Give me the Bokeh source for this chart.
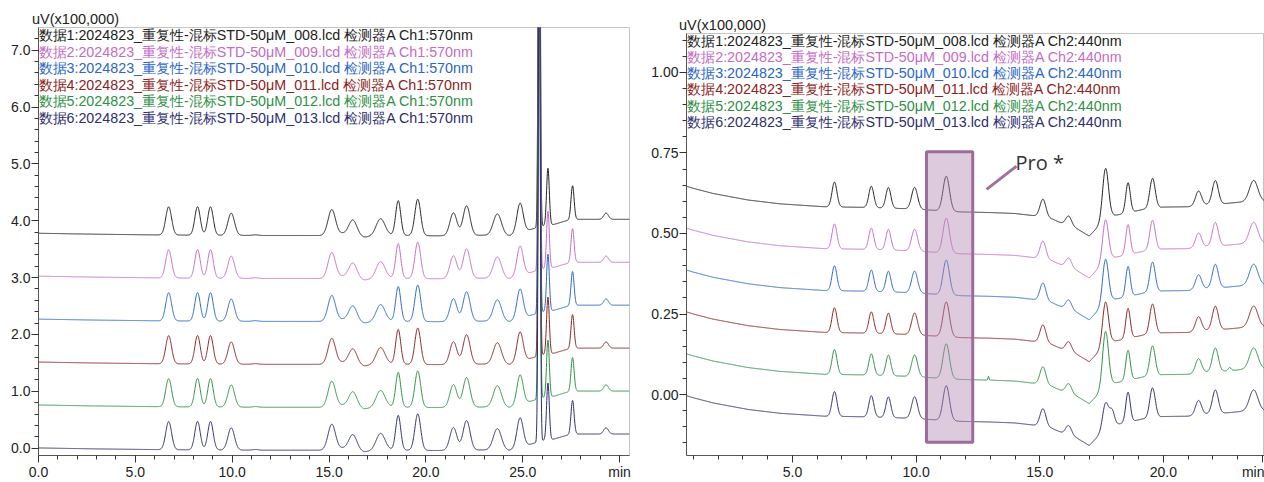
import numpy as np
from bokeh.plotting import figure
from bokeh.layouts import row, column
from bokeh.models import Range1d, FixedTicker, Label, PrintfTickFormatter
from bokeh.embed import file_html
from bokeh.resources import INLINE

# ---------------- data ----------------
trace_colors = ["#222222", "#c46cc4", "#2b66c6", "#8b2323", "#2f8f46", "#2e2e70"]

legend_ch1 = [
    "数据1:2024823_重复性-混标STD-50μM_008.lcd 检测器A Ch1:570nm",
    "数据2:2024823_重复性-混标STD-50μM_009.lcd 检测器A Ch1:570nm",
    "数据3:2024823_重复性-混标STD-50μM_010.lcd 检测器A Ch1:570nm",
    "数据4:2024823_重复性-混标STD-50μM_011.lcd 检测器A Ch1:570nm",
    "数据5:2024823_重复性-混标STD-50μM_012.lcd 检测器A Ch1:570nm",
    "数据6:2024823_重复性-混标STD-50μM_013.lcd 检测器A Ch1:570nm",
]
legend_ch2 = [
    "数据1:2024823_重复性-混标STD-50μM_008.lcd 检测器A Ch2:440nm",
    "数据2:2024823_重复性-混标STD-50μM_009.lcd 检测器A Ch2:440nm",
    "数据3:2024823_重复性-混标STD-50μM_010.lcd 检测器A Ch2:440nm",
    "数据4:2024823_重复性-混标STD-50μM_011.lcd 检测器A Ch2:440nm",
    "数据5:2024823_重复性-混标STD-50μM_012.lcd 检测器A Ch2:440nm",
    "数据6:2024823_重复性-混标STD-50μM_013.lcd 检测器A Ch2:440nm",
]

# Ch1 (570 nm): vertical offsets of the six runs (uV x100,000)
ch1_offsets = [3.775, 3.02, 2.265, 1.51, 0.755, 0.0]
# baseline (min, value)
ch1_base_t = [0.0, 3.0, 6.3, 10.6, 11.8, 14.6, 15.7, 16.8, 17.2, 18.1, 20.5, 23.0, 24.3, 25.3, 25.7, 26.1, 26.6, 27.3, 27.8, 30.6]
ch1_base_v = [0.005, -0.012, -0.025, -0.033, -0.035, -0.035, 0.0, -0.065, -0.05, -0.03, -0.04, -0.03, -0.04, 0.06, 0.10, 0.14, 0.16, 0.23, 0.25, 0.25]
# peak table: retention time (min), height, width (sigma, min)
ch1_peak_t = [6.72, 8.21, 8.88, 9.95, 11.2, 15.14, 16.23, 17.66, 18.57, 19.58, 21.42, 22.10, 23.69, 24.86, 25.85, 26.30, 27.57, 29.30]
ch1_peak_h = [0.495, 0.50, 0.50, 0.39, 0.012, 0.44, 0.27, 0.30, 0.61, 0.64, 0.40, 0.52, 0.38, 0.52, 9.0, 1.0, 0.60, 0.11]
ch1_peak_w = [0.15, 0.14, 0.14, 0.17, 0.15, 0.19, 0.21, 0.23, 0.13, 0.15, 0.18, 0.18, 0.21, 0.16, 0.05, 0.07, 0.08, 0.12]

# Ch2 (440 nm)
ch2_offsets = [0.65, 0.52, 0.39, 0.26, 0.13, 0.0]
ch2_base_t = [0.7, 1.0, 1.8, 3.2, 4.5, 6.3, 8.0, 10.0, 10.5, 11.8, 13.0, 14.0, 14.8, 15.5, 15.95, 16.5, 17.0, 17.35, 17.95, 18.3, 18.9, 19.2, 20.0, 21.0, 21.75, 22.5, 23.2, 24.2]
ch2_base_v = [-0.003, -0.01, -0.026, -0.046, -0.058, -0.067, -0.069, -0.074, -0.077, -0.083, -0.085, -0.088, -0.095, -0.105, -0.12, -0.135, -0.158, -0.13, -0.095, -0.09, -0.08, -0.075, -0.068, -0.067, -0.06, -0.057, -0.052, -0.05]
ch2_peak_t = [6.70, 8.19, 8.88, 9.94, 11.22, 15.13, 16.17, 18.57, 19.56, 21.42, 22.10, 23.65]
ch2_peak_h = [0.077, 0.066, 0.064, 0.067, 0.108, 0.056, 0.030, 0.093, 0.093, 0.045, 0.073, 0.066]
ch2_peak_w = [0.10, 0.10, 0.10, 0.12, 0.13, 0.12, 0.12, 0.09, 0.11, 0.12, 0.12, 0.17]
# the 17.7 min peak differs from run to run (run 6 has a shoulder)
ch2_p177_h = [0.164, 0.134, 0.142, 0.139, 0.178, 0.085]
ch2_p179_h = [0.0, 0.0, 0.0, 0.0, 0.0, 0.045]
ch2_p177_t, ch2_p177_w = 17.66, 0.12
ch2_p179_t, ch2_p179_w = 17.92, 0.10
# small extra features of run 5
ch2_run5_t = [12.93, 22.68]
ch2_run5_h = [0.012, 0.010]
ch2_run5_w = [0.02, 0.06]

# highlighted region and annotation
pro_left, pro_right, pro_bottom, pro_top = 10.42, 12.29, -0.148, 0.754
pro_text = "Pro *"
pro_text_x, pro_text_y = 14.02, 0.721
pro_line_x0, pro_line_y0, pro_line_x1, pro_line_y1 = 12.85, 0.637, 14.06, 0.709

unit_label = "uV(x100,000)"

# axis ranges / ticks
ch1_x = (0.0, 30.51)
ch1_y = (-0.128, 7.398)
ch1_xticks = [0, 5, 10, 15, 20, 25, 30]
ch1_yticks = [0, 1, 2, 3, 4, 5, 6, 7]
ch2_x = (0.716, 24.088)
ch2_y = (-0.189, 1.1207)
ch2_xticks = [5, 10, 15, 20, 24]
ch2_yticks = [0.0, 0.25, 0.5, 0.75, 1.0]


def gauss_sum(t, cs, hs, ws):
    y = np.zeros_like(t)
    for c, h, w in zip(cs, hs, ws):
        y = y + h * np.exp(-0.5 * ((t - c) / w) ** 2)
    return y


FONT = "Liberation Sans"
FIG_H = 482


def style(p, xt, xminor, yt, yminor, yfmt, overrides, title_offset):
    p.xgrid.visible = False
    p.ygrid.visible = False
    p.outline_line_color = "#c4c4c4"
    p.outline_line_width = 1
    p.xaxis.ticker = FixedTicker(ticks=xt, minor_ticks=xminor)
    p.yaxis.ticker = FixedTicker(ticks=yt, minor_ticks=yminor)
    p.xaxis.formatter = PrintfTickFormatter(format="%.1f")
    p.yaxis.formatter = PrintfTickFormatter(format=yfmt)
    p.xaxis.major_label_overrides = overrides
    for ax in (p.xaxis[0], p.yaxis[0]):
        ax.axis_label = None
        ax.axis_line_color = "#555555"
        ax.major_tick_line_color = "#333333"
        ax.minor_tick_line_color = "#333333"
        ax.major_tick_out = 7
        ax.major_tick_in = 0
        ax.minor_tick_out = 4
        ax.minor_tick_in = 0
        ax.major_label_text_font = FONT
        ax.major_label_text_font_size = "14px"
        ax.major_label_text_color = "#222222"
        ax.major_label_standoff = 1
    p.title.text = unit_label
    p.title.align = "left"
    p.title.offset = title_offset
    p.title.standoff = 1
    p.title.text_font = FONT
    p.title.text_font_size = "14.5px"
    p.title.text_font_style = "normal"
    p.title.text_color = "#222222"


# ---------------- left chart: Ch1 570 nm ----------------
p1 = figure(width=632, height=FIG_H, x_range=Range1d(*ch1_x), y_range=Range1d(*ch1_y),
            output_backend="svg", toolbar_location=None,
            min_border_left=38, min_border_right=3, min_border_top=27, min_border_bottom=26)
style(p1, ch1_xticks, list(range(0, 31)), ch1_yticks, [round(v * 0.2, 1) for v in range(0, 37)], "%.1f",
      {30: "min"}, -6.5)

t1 = np.linspace(ch1_x[0], ch1_x[1], 3052)
shape1 = np.interp(t1, ch1_base_t, ch1_base_v) + gauss_sum(t1, ch1_peak_t, ch1_peak_h, ch1_peak_w)
for off, col in zip(ch1_offsets, trace_colors):
    p1.line(t1, shape1 + off, line_color=col, line_width=1)

fh1 = 429.0
ppu1 = fh1 / (ch1_y[1] - ch1_y[0])
for i, (txt, col) in enumerate(zip(legend_ch1, trace_colors)):
    p1.add_layout(Label(x=ch1_x[0], y=ch1_y[1] - (8.0 + 16.54 * i) / ppu1, text=txt, text_color=col,
                        text_font=FONT, text_font_size="14.3px", text_baseline="middle", text_align="left"))

# ---------------- right chart: Ch2 440 nm ----------------
p2 = figure(width=632, height=FIG_H, x_range=Range1d(*ch2_x), y_range=Range1d(*ch2_y),
            output_backend="svg", toolbar_location=None,
            min_border_left=54, min_border_right=0, min_border_top=33, min_border_bottom=26)
style(p2, ch2_xticks, list(range(1, 25)), ch2_yticks, [round(-0.15 + 0.05 * k, 2) for k in range(0, 26)], "%.2f",
      {24: "min"}, -7.5)

t2 = np.linspace(ch2_x[0], ch2_x[1], 2338)
shape2 = np.interp(t2, ch2_base_t, ch2_base_v) + gauss_sum(t2, ch2_peak_t, ch2_peak_h, ch2_peak_w)
for k, (off, col) in enumerate(zip(ch2_offsets, trace_colors)):
    y = shape2 + off
    y = y + gauss_sum(t2, [ch2_p177_t, ch2_p179_t], [ch2_p177_h[k], ch2_p179_h[k]], [ch2_p177_w, ch2_p179_w])
    if k == 4:
        y = y + gauss_sum(t2, ch2_run5_t, ch2_run5_h, ch2_run5_w)
    p2.line(t2, y, line_color=col, line_width=1)

p2.quad(left=[pro_left], right=[pro_right], bottom=[pro_bottom], top=[pro_top],
        fill_color="#b48cb4", fill_alpha=0.45, line_color="#9c6c9c", line_width=3)
p2.segment(x0=[pro_line_x0], y0=[pro_line_y0], x1=[pro_line_x1], y1=[pro_line_y1],
           line_color="#a070a0", line_width=3)
p2.add_layout(Label(x=pro_text_x, y=pro_text_y, text=pro_text, text_color="#333333",
                    text_font="Open Sans", text_font_size="20px", text_baseline="alphabetic", text_align="left"))

fh2 = 423.0
ppu2 = fh2 / (ch2_y[1] - ch2_y[0])
for i, (txt, col) in enumerate(zip(legend_ch2, trace_colors)):
    p2.add_layout(Label(x=ch2_x[0] + 0.7 / 24.73, y=ch2_y[1] - (7.4 + 16.2 * i) / ppu2, text=txt, text_color=col,
                        text_font=FONT, text_font_size="14.3px", text_baseline="middle", text_align="left"))

layout = row(column(p1), column(p2))
open("out.html", "w").write(file_html(layout, INLINE))
